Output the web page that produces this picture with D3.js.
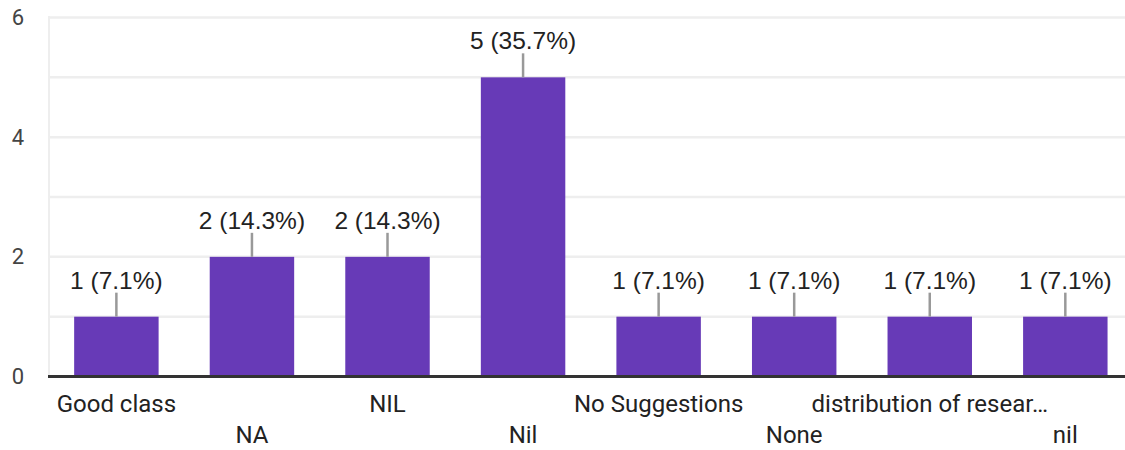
<!DOCTYPE html>
<html><head><meta charset="utf-8">
<script src="https://cdn.jsdelivr.net/npm/d3@7"></script>
<style>body{margin:0;background:#fff}svg{display:block}</style>
</head><body>
<svg id="c" width="1125" height="450"></svg>
<script>
const categories = ["Good class","NA","NIL","Nil","No Suggestions","None","distribution of resear…","nil"];
const counts = [1,2,2,5,1,1,1,1];
const percents = ["7.1%","14.3%","14.3%","35.7%","7.1%","7.1%","7.1%","7.1%"];
const yTicks = [0,2,4,6];
const gridTicks = [1,2,3,4,5,6];

const svg = d3.select("#c");
const fontA = "'Liberation Sans', Arial, sans-serif";
const fontR = "Roboto, Arial, sans-serif";
const x = d3.scaleBand().domain(categories).range([48.6,1133.1]).paddingInner(0.377).paddingOuter(0.1885);
const y = d3.scaleLinear().domain([0,6]).range([376.5,17.5]);

// gridlines
svg.append("g").selectAll("line").data(gridTicks).join("line")
  .attr("x1",48).attr("x2",1125).attr("y1",d=>y(d)).attr("y2",d=>y(d))
  .attr("stroke","#eeeeee").attr("stroke-width",2.5);
svg.append("line").attr("x1",49).attr("x2",49).attr("y1",y(6)-1.5).attr("y2",y(0))
  .attr("stroke","#eeeeee").attr("stroke-width",2);

// y axis labels
const yAxis = d3.axisLeft(y).tickValues(yTicks).tickSize(0).tickPadding(0).tickFormat(d3.format("d"));
const ga = svg.append("g").attr("transform","translate(24,0)").call(yAxis);
ga.select(".domain").remove();
ga.selectAll("text").attr("font-family",fontR).attr("font-size",22).attr("fill","#444");

// bars
svg.append("g").selectAll("rect").data(categories).join("rect")
  .attr("x",d=>x(d)).attr("width",x.bandwidth())
  .attr("y",(d,i)=>y(counts[i])).attr("height",(d,i)=>y(0)-y(counts[i]))
  .attr("fill","#673ab7");

// leader lines
svg.append("g").selectAll("line").data(categories).join("line")
  .attr("x1",d=>x(d)+x.bandwidth()/2).attr("x2",d=>x(d)+x.bandwidth()/2)
  .attr("y1",(d,i)=>y(counts[i])).attr("y2",(d,i)=>y(counts[i])-24)
  .attr("stroke","#999").attr("stroke-width",2.5);

// value labels
svg.append("g").selectAll("text").data(categories).join("text")
  .attr("x",d=>x(d)+x.bandwidth()/2).attr("y",(d,i)=>y(counts[i])-28)
  .attr("text-anchor","middle").attr("font-family",fontA).attr("font-size",24.5).attr("fill","#222")
  .text((d,i)=>counts[i]+" ("+percents[i]+")");

// zero axis
svg.append("line").attr("x1",48).attr("x2",1125).attr("y1",y(0)).attr("y2",y(0))
  .attr("stroke","#333").attr("stroke-width",3);

// category labels
svg.append("g").selectAll("text").data(categories).join("text")
  .attr("x",d=>x(d)+x.bandwidth()/2).attr("y",(d,i)=>i%2===0?412:443)
  .attr("text-anchor","middle").attr("font-family",fontR).attr("font-size",24).attr("fill","#222")
  .text(d=>d);
</script>
</body></html>
